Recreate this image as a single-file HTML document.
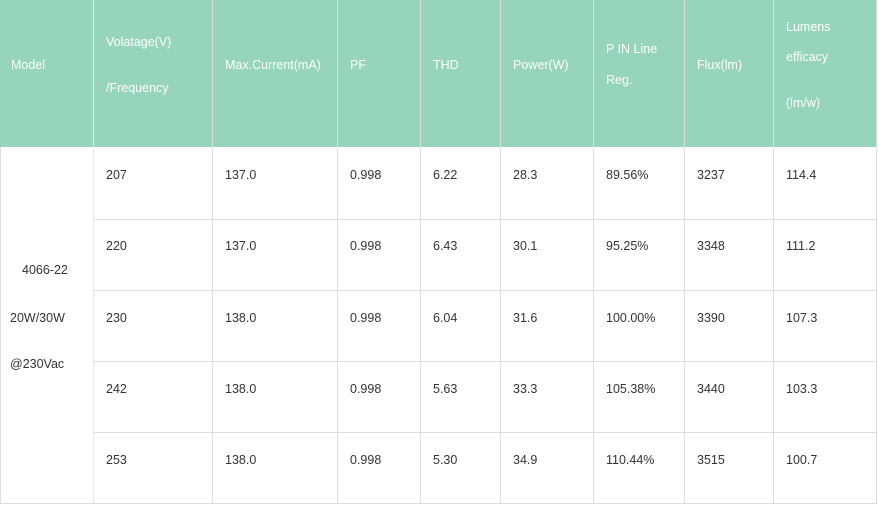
<!DOCTYPE html><html><head><style>
body{margin:0;width:879px;height:506px;background:#fff;position:relative;overflow:hidden;font-family:"Liberation Sans","DejaVu Sans",sans-serif;font-size:12.5px;color:#333}
.h{position:absolute;left:0;top:0;width:877px;height:147px;background:#96d4bc}
.v{position:absolute;width:1px;background:#ddd}
.hl{position:absolute;height:1px;left:0;width:877px;background:#ddd}
.t{position:absolute;line-height:16px;margin-top:-8px;white-space:nowrap}
.w{color:#fff}
</style></head><body>
<div class="h"></div>
<div class="v" style="left:93px;top:0;height:504px;background:#e6e6e6"></div>
<div class="v" style="left:212px;top:0;height:504px"></div>
<div class="v" style="left:337px;top:0;height:504px"></div>
<div class="v" style="left:420px;top:0;height:504px"></div>
<div class="v" style="left:500px;top:0;height:504px"></div>
<div class="v" style="left:593px;top:0;height:504px"></div>
<div class="v" style="left:684px;top:0;height:504px"></div>
<div class="v" style="left:773px;top:0;height:504px"></div>
<div class="v" style="left:876px;top:0;height:504px"></div>
<div class="v" style="left:0;top:147px;height:357px"></div>
<div class="hl" style="top:219px;left:93px;width:784px"></div>
<div class="hl" style="top:290px;left:93px;width:784px"></div>
<div class="hl" style="top:361px;left:93px;width:784px"></div>
<div class="hl" style="top:432px;left:93px;width:784px"></div>
<div class="hl" style="top:503px"></div>

<div class="t w" style="left:11px;top:65px">Model</div>
<div class="t w" style="left:106px;top:42px">Volatage(V)</div>
<div class="t w" style="left:106px;top:88px">/Frequency</div>
<div class="t w" style="left:225px;top:65px">Max.Current(mA)</div>
<div class="t w" style="left:350px;top:65px">PF</div>
<div class="t w" style="left:433px;top:65px">THD</div>
<div class="t w" style="left:513px;top:65px">Power(W)</div>
<div class="t w" style="left:606px;top:49px">P IN Line</div>
<div class="t w" style="left:606px;top:80px">Reg.</div>
<div class="t w" style="left:697px;top:65px">Flux(lm)</div>
<div class="t w" style="left:786px;top:27px">Lumens</div>
<div class="t w" style="left:786px;top:57px">efficacy</div>
<div class="t w" style="left:786px;top:103px">(lm/w)</div>

<div class="t" style="left:22px;top:270px">4066-22</div>
<div class="t" style="left:10px;top:318px">20W/30W</div>
<div class="t" style="left:10px;top:364px">@230Vac</div>

<div class="t" style="left:106px;top:175px">207</div><div class="t" style="left:225px;top:175px">137.0</div><div class="t" style="left:350px;top:175px">0.998</div><div class="t" style="left:433px;top:175px">6.22</div><div class="t" style="left:513px;top:175px">28.3</div><div class="t" style="left:606px;top:175px">89.56%</div><div class="t" style="left:697px;top:175px">3237</div><div class="t" style="left:786px;top:175px">114.4</div>
<div class="t" style="left:106px;top:246px">220</div><div class="t" style="left:225px;top:246px">137.0</div><div class="t" style="left:350px;top:246px">0.998</div><div class="t" style="left:433px;top:246px">6.43</div><div class="t" style="left:513px;top:246px">30.1</div><div class="t" style="left:606px;top:246px">95.25%</div><div class="t" style="left:697px;top:246px">3348</div><div class="t" style="left:786px;top:246px">111.2</div>
<div class="t" style="left:106px;top:318px">230</div><div class="t" style="left:225px;top:318px">138.0</div><div class="t" style="left:350px;top:318px">0.998</div><div class="t" style="left:433px;top:318px">6.04</div><div class="t" style="left:513px;top:318px">31.6</div><div class="t" style="left:606px;top:318px">100.00%</div><div class="t" style="left:697px;top:318px">3390</div><div class="t" style="left:786px;top:318px">107.3</div>
<div class="t" style="left:106px;top:389px">242</div><div class="t" style="left:225px;top:389px">138.0</div><div class="t" style="left:350px;top:389px">0.998</div><div class="t" style="left:433px;top:389px">5.63</div><div class="t" style="left:513px;top:389px">33.3</div><div class="t" style="left:606px;top:389px">105.38%</div><div class="t" style="left:697px;top:389px">3440</div><div class="t" style="left:786px;top:389px">103.3</div>
<div class="t" style="left:106px;top:460px">253</div><div class="t" style="left:225px;top:460px">138.0</div><div class="t" style="left:350px;top:460px">0.998</div><div class="t" style="left:433px;top:460px">5.30</div><div class="t" style="left:513px;top:460px">34.9</div><div class="t" style="left:606px;top:460px">110.44%</div><div class="t" style="left:697px;top:460px">3515</div><div class="t" style="left:786px;top:460px">100.7</div>
</body></html>
